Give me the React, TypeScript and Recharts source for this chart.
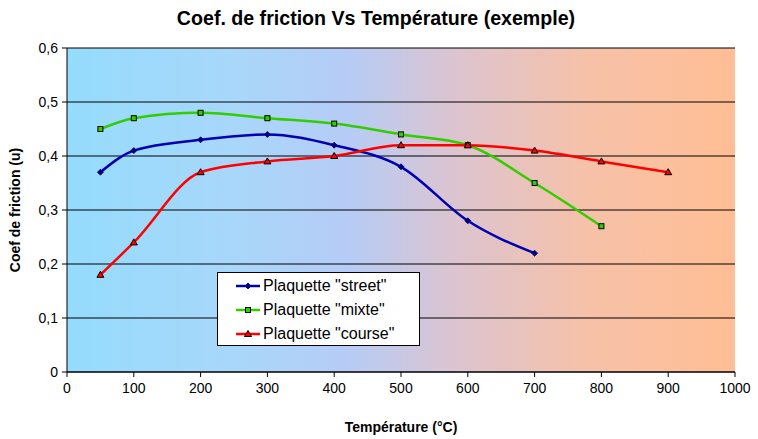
import React from "react";
import { LineChart, Line, XAxis, YAxis, CartesianGrid } from "recharts";

const temperatures = [50, 100, 200, 300, 400, 500, 600, 700, 800, 900];
const street = [0.37, 0.41, 0.43, 0.44, 0.42, 0.38, 0.28, 0.22, null, null];
const mixte = [0.45, 0.47, 0.48, 0.47, 0.46, 0.44, 0.42, 0.35, 0.27, null];
const course = [0.18, 0.24, 0.37, 0.39, 0.40, 0.42, 0.42, 0.41, 0.39, 0.37];
const xTicks = [0, 100, 200, 300, 400, 500, 600, 700, 800, 900, 1000];
const yTicks = [0, 0.1, 0.2, 0.3, 0.4, 0.5, 0.6];

const data = temperatures.map((t, i) => ({
  t,
  street: street[i],
  mixte: mixte[i],
  course: course[i],
}));

const FONT = "'Liberation Sans', Arial, sans-serif";

const StreetDot = (p: any) => {
  const { cx, cy, value } = p;
  if (value == null || cx == null || cy == null) return null;
  return (
    <path key={`s${cx}`} d={`M${cx - 3},${cy} L${cx},${cy - 3} L${cx + 3},${cy} L${cx},${cy + 3} Z`} fill="#00007a" stroke="#00007a" strokeWidth={0.8} />
  );
};
const MixteDot = (p: any) => {
  const { cx, cy, value } = p;
  if (value == null || cx == null || cy == null) return null;
  return <rect key={`m${cx}`} x={cx - 2.5} y={cy - 2.5} width={5} height={5} fill="#33cc00" stroke="#000" strokeWidth={1} />;
};
const CourseDot = (p: any) => {
  const { cx, cy, value } = p;
  if (value == null || cx == null || cy == null) return null;
  return <path key={`c${cx}`} d={`M${cx},${cy - 3.5} L${cx + 3.5},${cy + 2.5} L${cx - 3.5},${cy + 2.5} Z`} fill="#ff0000" stroke="#000" strokeWidth={1} />;
};

const legendItems = [
  { label: 'Plaquette "street"', color: "#0000b0", Dot: StreetDot },
  { label: 'Plaquette "mixte"', color: "#33cc00", Dot: MixteDot },
  { label: 'Plaquette "course"', color: "#ff0000", Dot: CourseDot },
];

const LegendBox = () => (
  <div style={{ position: "absolute", left: 217, top: 272, width: 203, height: 74, background: "#fff", border: "1px solid #000", boxSizing: "border-box", paddingTop: 1 }}>
    {legendItems.map((it, i) => (
      <div key={i} style={{ display: "flex", alignItems: "center", height: 24 }}>
        <svg width={45} height={12} style={{ flex: "none" }}>
          <line x1={18} y1={6} x2={42} y2={6} stroke={it.color} strokeWidth={2.5} />
          <it.Dot cx={30} cy={6} value={1} />
        </svg>
        <span style={{ fontFamily: FONT, fontSize: 16, color: "#000", whiteSpace: "nowrap" }}>{it.label}</span>
      </div>
    ))}
  </div>
);

const fmtY = (v: number) => (v === 0 ? "0" : v.toFixed(1).replace(".", ","));

export default function App() {
  return (
    <div style={{ position: "absolute", left: 0, top: 0, width: 758, height: 439, background: "#fff" }}>
      <div style={{ position: "absolute", left: 0, top: 7, width: 752, textAlign: "center", fontFamily: FONT, fontWeight: "bold", fontSize: 20, transform: "scaleX(0.98)" }}>
        Coef. de friction Vs Température (exemple)
      </div>
      <LineChart width={758} height={439} data={data} margin={{ top: 48, right: 23, bottom: 37, left: 20 }}>
        <defs>
          <linearGradient id="bg" x1="0" y1="0" x2="1" y2="0">
            <stop offset="0%" stopColor="#95dcfc" />
            <stop offset="25%" stopColor="#a8d7fa" />
            <stop offset="42%" stopColor="#b6ccf6" />
            <stop offset="58%" stopColor="#dcc4d0" />
            <stop offset="78%" stopColor="#f6c1a8" />
            <stop offset="100%" stopColor="#ffbe94" />
          </linearGradient>
        </defs>
        <CartesianGrid vertical={false} stroke="#000" strokeWidth={1} fill="url(#bg)" fillOpacity={1} />
        <XAxis
          dataKey="t"
          type="number"
          domain={[0, 1000]}
          ticks={xTicks}
          interval={0}
          axisLine={{ stroke: "#000" }}
          tickLine={{ stroke: "#000" }}
          tickSize={5}
          tickMargin={6}
          height={30}
          tick={{ fill: "#000", fontFamily: FONT, fontSize: 14 }}
          label={{ value: "Température (°C)", position: "insideBottom", offset: -30, fill: "#000", fontFamily: FONT, fontWeight: "bold", fontSize: 14 }}
        />
        <YAxis
          type="number"
          domain={[0, 0.6]}
          ticks={yTicks}
          interval={0}
          tickFormatter={fmtY}
          axisLine={{ stroke: "#000" }}
          tickLine={{ stroke: "#000" }}
          tickSize={5}
          tickMargin={4}
          width={47}
          tick={{ fill: "#000", fontFamily: FONT, fontSize: 14 }}
          label={{ value: "Coef de friction (u)", angle: -90, position: "insideLeft", offset: -5, fill: "#000", fontFamily: FONT, fontWeight: "bold", fontSize: 14, style: { textAnchor: "middle" } }}
        />
        <Line type="monotone" dataKey="street" stroke="#0000b0" strokeWidth={2.5} dot={<StreetDot />} isAnimationActive={false} />
        <Line type="monotone" dataKey="mixte" stroke="#33cc00" strokeWidth={2.5} dot={<MixteDot />} isAnimationActive={false} />
        <Line type="monotone" dataKey="course" stroke="#ff0000" strokeWidth={2.5} dot={<CourseDot />} isAnimationActive={false} />
      </LineChart>
      <LegendBox />
    </div>
  );
}
